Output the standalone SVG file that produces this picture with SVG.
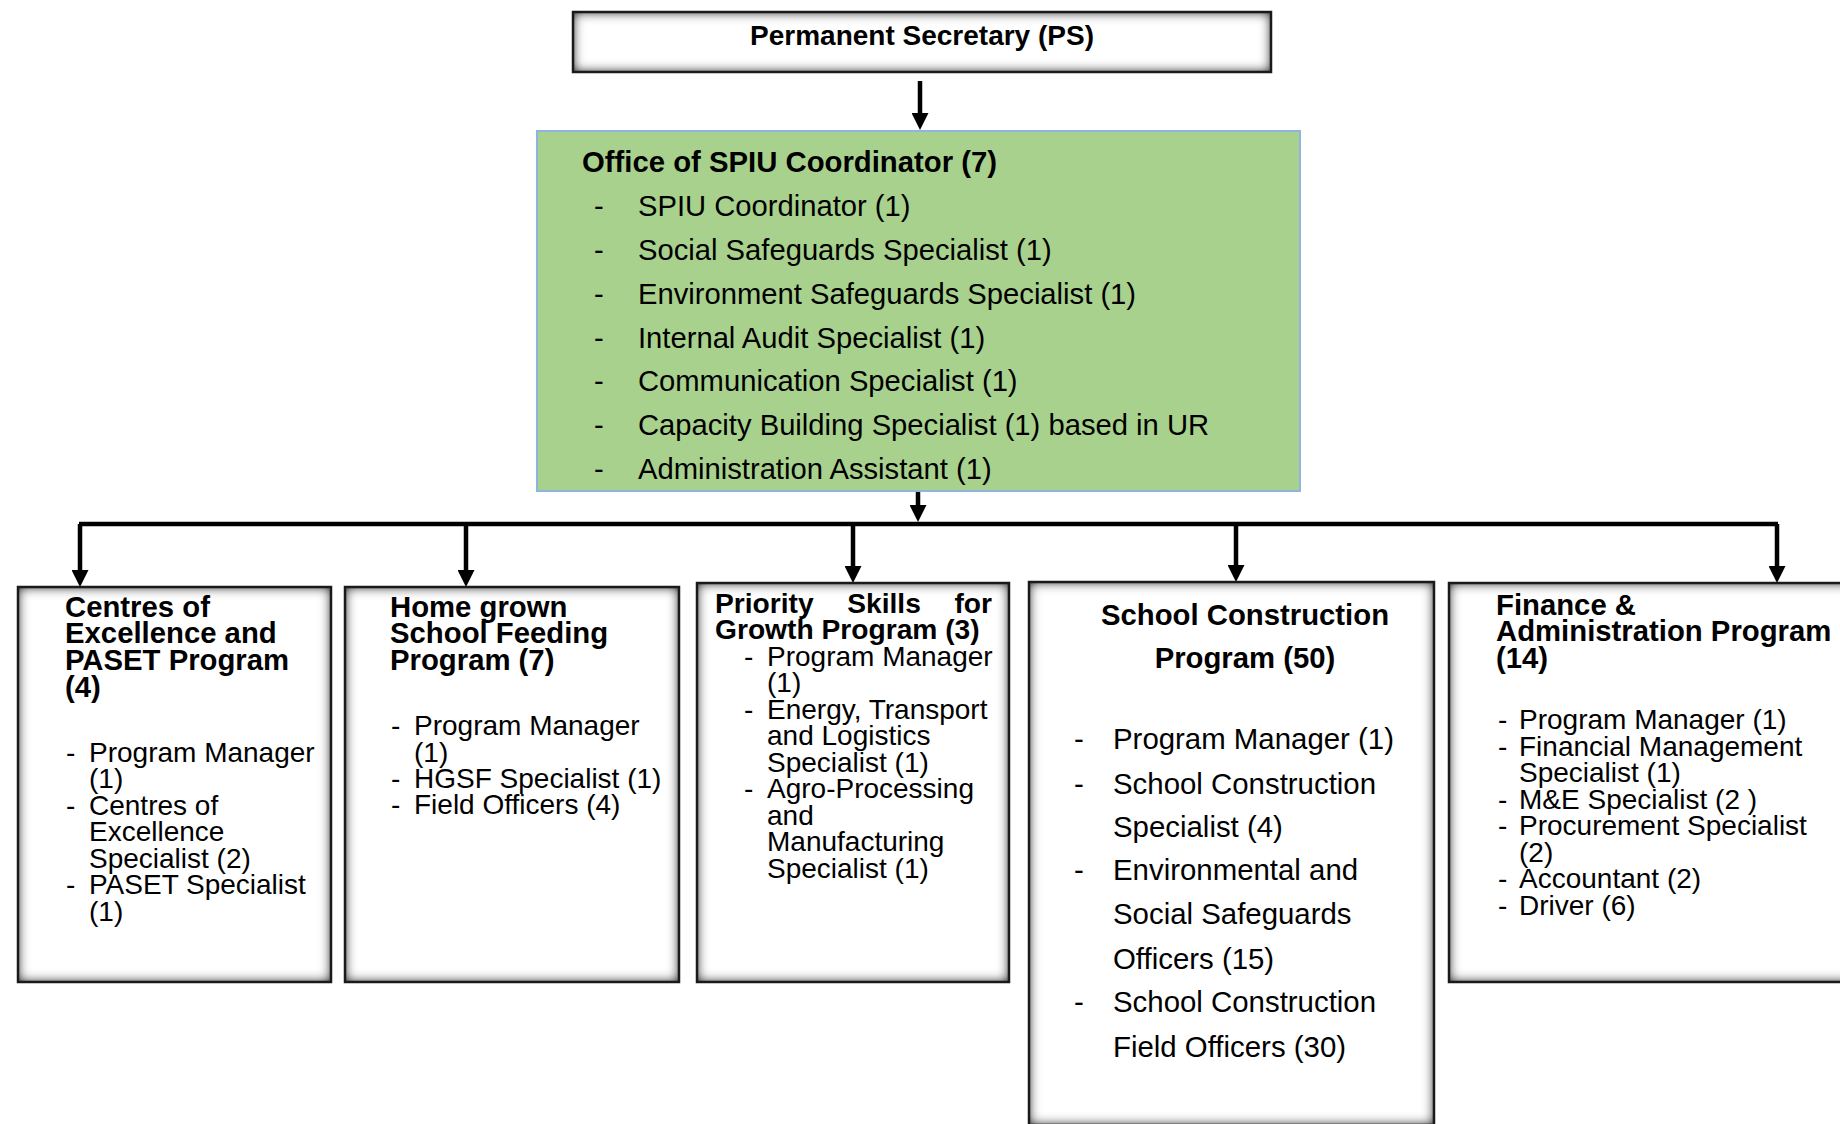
<svg xmlns="http://www.w3.org/2000/svg" width="1840" height="1124" viewBox="0 0 1840 1124">
  <defs>
    <style>
      text { font-family: "Liberation Sans", Arial, sans-serif; fill: #000; }
      .ps { font-size: 28px; font-weight: bold; }
      .t { font-size: 29.3px; font-weight: bold; }
      .t28 { font-size: 28.2px; font-weight: bold; }
      .i { font-size: 28px; }
      .gi { font-size: 29.2px; }
      .si { font-size: 29.4px; }
      .gt { font-size: 29.3px; font-weight: bold; }
      .box { fill: #fff; filter: url(#inset); }
      .edge { fill: none; stroke: #1a1a1a; stroke-width: 2.5; }
      .wire { fill: none; stroke: #000; stroke-width: 4.5; }
    </style>
    <!-- grey inner glow along the edges of the white boxes -->
    <filter id="inset" x="-10%" y="-40%" width="120%" height="180%">
      <feFlood flood-color="#000" result="f"/>
      <feComposite in="f" in2="SourceAlpha" operator="out" result="ring"/>
      <feGaussianBlur in="ring" stdDeviation="6" result="blur"/>
      <feComposite in="blur" in2="SourceAlpha" operator="in" result="inner"/>
      <feMerge>
        <feMergeNode in="SourceGraphic"/>
        <feMergeNode in="inner"/>
        <feMergeNode in="inner"/>
      </feMerge>
    </filter>
    <marker id="head" viewBox="0 0 17 17" refX="1" refY="8.5" markerWidth="17" markerHeight="17" markerUnits="userSpaceOnUse" orient="auto">
      <path d="M0,0 L17,8.5 L0,17 z" fill="#000"/>
    </marker>
  </defs>

  <rect width="1840" height="1124" fill="#fff"/>

  <!-- connectors -->
  <g id="connectors">
    <path class="wire" d="M920,81 V114" marker-end="url(#head)"/>
    <path class="wire" d="M918,491 V506" marker-end="url(#head)"/>
    <path class="wire" d="M79,524 H1778" stroke-width="5"/>
    <path class="wire" d="M80,524 V571" marker-end="url(#head)"/>
    <path class="wire" d="M466,524 V571" marker-end="url(#head)"/>
    <path class="wire" d="M853,524 V567" marker-end="url(#head)"/>
    <path class="wire" d="M1236,524 V566" marker-end="url(#head)"/>
    <path class="wire" d="M1777,524 V567" marker-end="url(#head)"/>
  </g>

  <!-- top -->
  <g id="node-ps">
    <rect class="box" x="573" y="12" width="698" height="60"/>
    <rect class="edge" x="573" y="12" width="698" height="60"/>
    <text class="ps" x="922" y="45" text-anchor="middle">Permanent Secretary (PS)</text>
  </g>

  <g id="node-spiu">
    <rect x="537" y="131" width="763" height="360" fill="#a9d18e" stroke="#8fb4df" stroke-width="2"/>
    <text class="gt" x="582" y="172">Office of SPIU Coordinator (7)</text>
    <g class="gi">
      <text x="594" y="216">-</text><text x="638" y="216">SPIU Coordinator (1)</text>
      <text x="594" y="260">-</text><text x="638" y="260">Social Safeguards Specialist (1)</text>
      <text x="594" y="304">-</text><text x="638" y="304">Environment Safeguards Specialist (1)</text>
      <text x="594" y="348">-</text><text x="638" y="348">Internal Audit Specialist (1)</text>
      <text x="594" y="391">-</text><text x="638" y="391">Communication Specialist (1)</text>
      <text x="594" y="435">-</text><text x="638" y="435">Capacity Building Specialist (1) based in UR</text>
      <text x="594" y="479">-</text><text x="638" y="479">Administration Assistant (1)</text>
    </g>
  </g>

  <!-- programmes -->
  <g id="node-ce-paset">
    <rect class="box" x="18" y="587" width="313" height="395"/>
    <rect class="edge" x="18" y="587" width="313" height="395"/>
    <text class="t" x="65" y="617">Centres of</text>
    <text class="t" x="65" y="643">Excellence and</text>
    <text class="t" x="65" y="670">PASET Program</text>
    <text class="t" x="65" y="697">(4)</text>
    <g class="i">
      <text x="66" y="762">-</text><text x="89" y="762">Program Manager</text>
      <text x="89" y="788">(1)</text>
      <text x="66" y="815">-</text><text x="89" y="815">Centres of</text>
      <text x="89" y="841">Excellence</text>
      <text x="89" y="868">Specialist (2)</text>
      <text x="66" y="894">-</text><text x="89" y="894">PASET Specialist</text>
      <text x="89" y="921">(1)</text>
    </g>
  </g>

  <g id="node-hgsf">
    <rect class="box" x="345" y="587" width="334" height="395"/>
    <rect class="edge" x="345" y="587" width="334" height="395"/>
    <text class="t" x="390" y="617">Home grown</text>
    <text class="t" x="390" y="643">School Feeding</text>
    <text class="t" x="390" y="670">Program (7)</text>
    <g class="i">
      <text x="391" y="735">-</text><text x="414" y="735">Program Manager</text>
      <text x="414" y="762">(1)</text>
      <text x="391" y="788">-</text><text x="414" y="788">HGSF Specialist (1)</text>
      <text x="391" y="814">-</text><text x="414" y="814">Field Officers (4)</text>
    </g>
  </g>

  <g id="node-psg">
    <rect class="box" x="697" y="583" width="312" height="399"/>
    <rect class="edge" x="697" y="583" width="312" height="399"/>
    <text class="t28" x="715" y="613">Priority</text>
    <text class="t28" x="884" y="613" text-anchor="middle">Skills</text>
    <text class="t28" x="992" y="613" text-anchor="end">for</text>
    <text class="t28" x="715" y="639">Growth Program (3)</text>
    <g class="i">
      <text x="744" y="666">-</text><text x="767" y="666">Program Manager</text>
      <text x="767" y="692">(1)</text>
      <text x="744" y="719">-</text><text x="767" y="719">Energy, Transport</text>
      <text x="767" y="745">and Logistics</text>
      <text x="767" y="772">Specialist (1)</text>
      <text x="744" y="798">-</text><text x="767" y="798">Agro-Processing</text>
      <text x="767" y="825">and</text>
      <text x="767" y="851">Manufacturing</text>
      <text x="767" y="878">Specialist (1)</text>
    </g>
  </g>

  <g id="node-school-construction">
    <rect class="box" x="1029" y="582" width="405" height="543"/>
    <rect class="edge" x="1029" y="582" width="405" height="543"/>
    <text class="t" x="1245" y="625" text-anchor="middle">School Construction</text>
    <text class="t" x="1245" y="668" text-anchor="middle">Program (50)</text>
    <g class="si">
      <text x="1074" y="749">-</text><text x="1113" y="749">Program Manager (1)</text>
      <text x="1074" y="794">-</text><text x="1113" y="794">School Construction</text>
      <text x="1113" y="837">Specialist (4)</text>
      <text x="1074" y="880">-</text><text x="1113" y="880">Environmental and</text>
      <text x="1113" y="924">Social Safeguards</text>
      <text x="1113" y="969">Officers (15)</text>
      <text x="1074" y="1012">-</text><text x="1113" y="1012">School Construction</text>
      <text x="1113" y="1057">Field Officers (30)</text>
    </g>
  </g>

  <g id="node-finance-admin">
    <rect class="box" x="1449" y="583" width="420" height="399"/>
    <rect class="edge" x="1449" y="583" width="420" height="399"/>
    <text class="t" x="1496" y="615">Finance &amp;</text>
    <text class="t" x="1496" y="641">Administration Program</text>
    <text class="t" x="1496" y="668">(14)</text>
    <g class="i">
      <text x="1498" y="729">-</text><text x="1519" y="729">Program Manager (1)</text>
      <text x="1498" y="756">-</text><text x="1519" y="756">Financial Management</text>
      <text x="1519" y="782">Specialist (1)</text>
      <text x="1498" y="809">-</text><text x="1519" y="809">M&amp;E Specialist (2 )</text>
      <text x="1498" y="835">-</text><text x="1519" y="835">Procurement Specialist</text>
      <text x="1519" y="862">(2)</text>
      <text x="1498" y="888">-</text><text x="1519" y="888">Accountant (2)</text>
      <text x="1498" y="915">-</text><text x="1519" y="915">Driver (6)</text>
    </g>
  </g>
</svg>
